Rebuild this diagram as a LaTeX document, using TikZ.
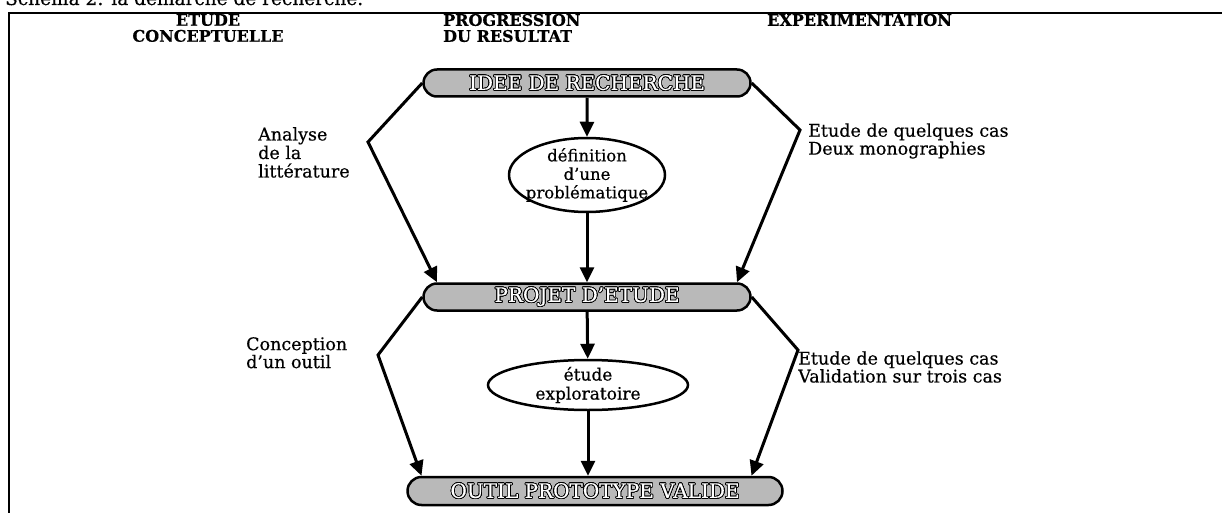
\documentclass[tikz,border=0pt]{standalone}
\usepackage{fontspec}
\setmainfont{DejaVu Serif}[FakeBold=0.5]
\usepackage{contour}
\contourlength{0.8pt}
\usetikzlibrary{shapes.geometric,shapes.misc,arrows.meta,positioning}

\tikzset{
 etape/.style={rounded rectangle, draw, line width=2.5pt, fill=gray!55, minimum height=27pt, inner sep=0pt, text=white, font=\fontsize{20}{20}\selectfont},
 bulle/.style={ellipse, draw, line width=2.5pt, inner sep=0pt},
 lien/.style={line width=3pt, -{Triangle[length=15pt,width=14pt]}},
 lbl/.style={align=left, inner sep=0pt, font=\fontsize{17.5}{16}\selectfont},
 entete/.style={inner sep=0pt, font=\bfseries\fontsize{16}{16}\selectfont},
}

\begin{document}
\begin{tikzpicture}[x=1pt,y=-1pt]
 \useasboundingbox (0,0) rectangle (1222,513);
 \clip (0,0) rectangle (1222,513);
 %title and frame
 \node (titre) at (5,5) [anchor=base west, inner sep=0pt, font=\fontsize{18.5}{18}\selectfont] {Schéma 2: la démarche de recherche.};
 \draw[line width=2.5pt] (9,520) -- (9,13) -- (1230,13);

 % headers
 \node (h0) at (208,28) [entete, align=center] {ETUDE\\CONCEPTUELLE};
 \node (h1) at (443,28) [entete, align=left, anchor=west] {PROGRESSION\\DU RESULTAT};
 \node (h2) at (767,20) [entete, anchor=west] {EXPERIMENTATION};

 % coordinates
 \coordinate (b0) at (368,142);
 \coordinate (b1) at (800,130);
 \coordinate (b2) at (378,355);
 \coordinate (b3) at (798,350);

 % steps
 \node (idee) at (587,83) [etape, minimum width=327pt] {\contour{black}{IDEE DE RECHERCHE}};
 \node (defin) at (587,175) [bulle, minimum width=156pt, minimum height=74pt,
  label={[align=center, font=\fontsize{16.5}{18.5}\selectfont]center:{définition\\d'une\\problématique}}] {};
 \node (projet) at (587,297) [etape, minimum width=327pt] {\contour{black}{PROJET D'ETUDE}};
 \node (explo) at (588,385) [bulle, minimum width=200pt, minimum height=50pt,
  label={[align=center, font=\fontsize{17}{19}\selectfont]center:{étude\\exploratoire}}] {};
 \node (outil) at (595,491) [etape, minimum width=375pt, minimum height=28pt] {\contour{black}{OUTIL PROTOTYPE VALIDE}};

 % labels
 \node (l0) at (258,127) [lbl, anchor=north west, font=\fontsize{17.5}{18.5}\selectfont] {Analyse\\de la\\littérature};
 \node (l1) at (808,141) [lbl, anchor=west] {Etude de quelques cas\\Deux monographies};
 \node (l2) at (246,337) [lbl, anchor=north west] {Conception\\d'un outil};
 \node (l3) at (798,367) [lbl, anchor=west] {Etude de quelques cas\\Validation sur trois cas};

 % connectors
 \foreach \a/\b in {idee/defin,defin/projet,projet/explo} {
  \draw[lien] (\a) -- (\b);
 };
 \draw[lien] (explo) -- (explo |- outil.north);
 \foreach \a/\c/\b in {idee.west/b0/projet.north west,idee.east/b1/projet.north east,projet.west/b2/outil.north west} {
  \draw[lien] (\a) -- (\c) -- (\b);
 };
 \draw[lien] (projet.east) -- (b3) -- ([xshift=-17pt]outil.north east);
\end{tikzpicture}
\end{document}
